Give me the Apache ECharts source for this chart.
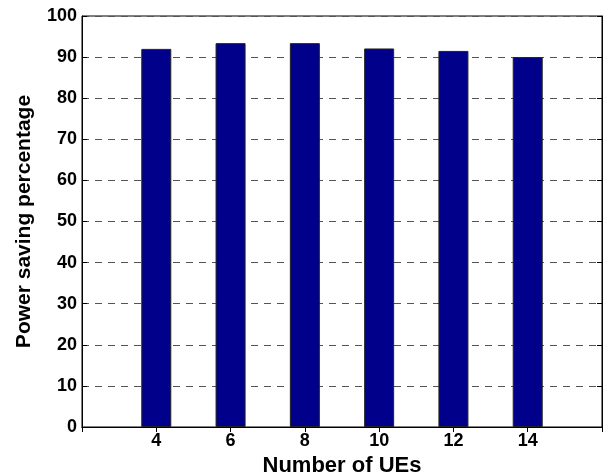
<!DOCTYPE html>
<html>
<head>
<meta charset="utf-8">
<script src="https://cdn.jsdelivr.net/npm/echarts@6/dist/echarts.min.js"></script>
<style>
  html, body { margin: 0; padding: 0; background: #fff; }
  #chart { width: 605px; height: 474px; }
</style>
</head>
<body>
<div id="chart"></div>
<script>
// Number of user equipments on the x axis
const ueCounts = [4, 6, 8, 10, 12, 14];
// Power saving (%) for each UE count
const powerSaving = [92.0, 93.4, 93.4, 92.1, 91.5, 90.0];
// Y axis tick range
const yTicks = { min: 0, max: 100, step: 10 };
// X axis span (the bars sit between these)
const xRange = { min: 2, max: 16, step: 2 };

const font = 'Liberation Sans, Arial, sans-serif';
const chart = echarts.init(document.getElementById('chart'), null, { renderer: 'canvas' });

const hideEdge = v => (v === xRange.min || v === xRange.max) ? '' : String(v);
const tick = { show: true, inside: true, length: 5, lineStyle: { color: '#000', width: 1 } };
const line = { show: true, lineStyle: { color: '#000', width: 1 } };

chart.setOption({
  animation: false,
  backgroundColor: '#ffffff',
  grid: {
    left: 82, right: 3, top: 16, bottom: 47, containLabel: false,
    outerBoundsMode: 'none',
    show: true, borderColor: '#000', borderWidth: 1, backgroundColor: 'transparent'
  },
  xAxis: [
    {
      type: 'value', min: xRange.min, max: xRange.max, interval: xRange.step,
      name: 'Number of UEs', nameLocation: 'middle', nameGap: 24,
      nameTextStyle: { fontFamily: font, fontWeight: 'bold', fontSize: 22, color: '#000' },
      axisLine: line, axisTick: tick,
      axisLabel: { formatter: hideEdge, fontFamily: font, fontWeight: 'bold', fontSize: 18, color: '#000', margin: 5 },
      splitLine: { show: false }
    },
    {
      type: 'value', position: 'top', min: xRange.min, max: xRange.max, interval: xRange.step,
      axisLine: line, axisTick: tick,
      axisLabel: { show: false },
      splitLine: { show: false }
    }
  ],
  yAxis: [
    {
      type: 'value', min: yTicks.min, max: yTicks.max, interval: yTicks.step,
      name: 'Power saving percentage', nameLocation: 'middle', nameGap: 47,
      nameTextStyle: { fontFamily: font, fontWeight: 'bold', fontSize: 21, color: '#000' },
      axisLine: line, axisTick: tick,
      axisLabel: { fontFamily: font, fontWeight: 'bold', fontSize: 18, color: '#000', margin: 5 },
      splitLine: { show: true, lineStyle: { color: '#555', type: [7, 6], width: 1 } }
    },
    {
      type: 'value', position: 'right', min: yTicks.min, max: yTicks.max, interval: yTicks.step,
      axisLine: line, axisTick: tick,
      axisLabel: { show: false },
      splitLine: { show: false }
    }
  ],
  series: [
    {
      type: 'bar',
      xAxisIndex: 0, yAxisIndex: 0,
      barWidth: 30,
      data: ueCounts.map((u, i) => [u, powerSaving[i]]),
      itemStyle: { color: '#00008b', borderColor: '#222', borderWidth: 1 },
      z: 3
    },
    {
      // empty series so the top and right frame axes are laid out
      type: 'line', xAxisIndex: 1, yAxisIndex: 1, data: [], silent: true
    }
  ]
});
</script>
</body>
</html>
